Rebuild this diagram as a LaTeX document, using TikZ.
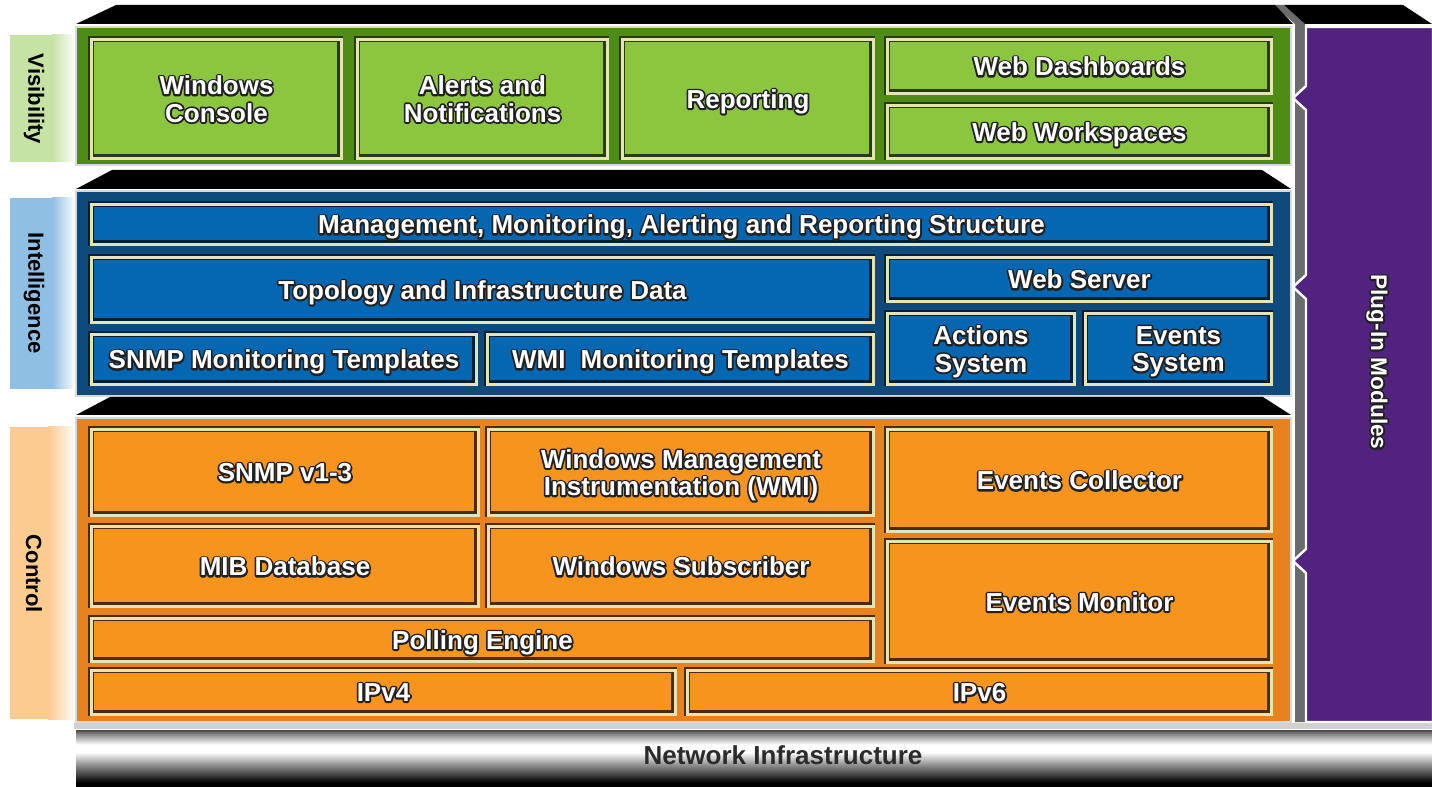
\documentclass[tikz,border=0pt]{standalone}
\usepackage{fontspec}
\newfontfamily\lsans{Liberation Sans}
\definecolor{gOut}{HTML}{4F8C16}
\definecolor{gIn}{HTML}{8CC63F}
\definecolor{bOut}{HTML}{0E4A7C}
\definecolor{bIn}{HTML}{0566B1}
\definecolor{oOut}{HTML}{E8821C}
\definecolor{oIn}{HTML}{F7941E}
\definecolor{cream}{HTML}{E6E3B4}
\definecolor{visS}{HTML}{C6E2A4}
\definecolor{intS}{HTML}{8FBFE3}
\definecolor{ctlS}{HTML}{FBCB90}
\definecolor{plum}{HTML}{51237F}
\definecolor{barGrey}{HTML}{6B6B6B}
\definecolor{netText}{HTML}{2B2B2B}
% outlined text: a stroked copy underneath, the plain white text on top
\newcommand\ot[1]{\rlap{\special{pdf:literal direct 2 Tr 2.6 w 1 j 0.13 G}#1\special{pdf:literal direct 0 Tr}}#1}
\pgfdeclareverticalshading{metal}{100bp}{color(0bp)=(black); color(25bp)=(black); color(28bp)=(black); color(35bp)=(black!75); color(45bp)=(black!40); color(55bp)=(white); color(62bp)=(white); color(72bp)=(black!50); color(75bp)=(black!72); color(100bp)=(black!72)}
\tikzset{
  boxtext/.style={text=white, font=\lsans\bfseries\fontsize{19.5}{20.5}\selectfont, align=center, inner sep=0pt, text depth=0pt},
  striptext/.style={text=black, font=\lsans\bfseries\fontsize{16.5}{18}\selectfont, rotate=-90, inner sep=0pt},
  layerbg/.style={draw=black!15, line width=2.2pt},
  topband/.style={fill=black},
}
% #1 name, #2 x0, #3 y0, #4 x1, #5 y1, #6 colour, #7 text
\newcommand\blk[7]{%
  \fill[#6!30!black] (#2-2,#3-2) rectangle (#4,#5);
  \fill[cream] (#2,#3) rectangle (#4,#5);
  \fill[#6!30!black] (#2+3,#3+3) rectangle (#4-3,#5-3);
  \fill[#6] (#2+4,#3+4) rectangle (#4-6,#5-6);
  \node[boxtext] (#1) at ({(#2+#4)/2},{(#3+#5)/2}) {#7};
}
\begin{document}
\begin{tikzpicture}[x=0.75pt,y=-0.75pt]
\useasboundingbox (0,0) rectangle (1432,787);
\fill[white] (0,0) rectangle (1432,787);

% ---------- plug-in modules column ----------
\fill[barGrey] (1273,5) -- (1284,5) -- (1305,24) -- (1305,722) -- (1295,722) -- (1295,24) -- cycle;
\fill[black] (1284,5) -- (1403,5) -- (1432,24) -- (1305,24) -- cycle;
\draw[white, line width=1.8pt, fill=plum] (1306,27) -- (1306,86) -- (1293,98) -- (1306,110)
  -- (1306,275) -- (1293,287) -- (1306,299) -- (1306,549) -- (1293,561) -- (1306,573)
  -- (1306,722) -- (1433,722) -- (1433,27) -- cycle;
\node[striptext, text=white, font=\lsans\bfseries\fontsize{17}{18}\selectfont] (plug) at (1377,362) {\ot{Plug-In Modules}};

% ---------- network infrastructure ----------
\fill[black!18] (74,723) rectangle (1432,729);
\shade[shading=metal] (76,730) rectangle (1432,786);
\node[text=netText, font=\lsans\bfseries\fontsize{19.5}{21}\selectfont, inner sep=0pt] (net) at (783,755) {Network Infrastructure};

% ---------- visibility layer ----------
\fill[topband] (76,24) -- (116,5) -- (1275,5) -- (1293,24) -- cycle;
\draw[layerbg, fill=gOut] (76,27) rectangle (1291,165);
\fill[visS] (10,35) rectangle (52,162);
\shade[left color=visS, right color=visS!12] (52,35) rectangle (73,162);
\node[striptext] (lvis) at (34,99) {Visibility};
\blk{winc}{90}{38}{343}{160}{gIn}{\ot{Windows}\\\ot{Console}}
\blk{alrt}{356}{38}{609}{160}{gIn}{\ot{Alerts and}\\\ot{Notifications}}
\blk{rept}{621}{38}{875}{160}{gIn}{\ot{Reporting}}
\blk{wdash}{886}{38}{1273}{95}{gIn}{\ot{Web Dashboards}}
\blk{wwork}{886}{104}{1273}{160}{gIn}{\ot{Web Workspaces}}

% ---------- intelligence layer ----------
\fill[topband] (76,189) -- (112,170) -- (1262,170) -- (1291,189) -- cycle;
\draw[layerbg, fill=bOut] (76,191) rectangle (1291,396);
\fill[intS] (10,198) rectangle (52,389);
\shade[left color=intS, right color=intS!12] (52,198) rectangle (73,389);
\node[striptext] (lint) at (34,293) {Intelligence};
\blk{mgmt}{90}{203}{1273}{246}{bIn}{\ot{Management, Monitoring, Alerting and Reporting Structure}}
\blk{topo}{90}{256}{875}{324}{bIn}{\ot{Topology and Infrastructure Data}}
\blk{wsrv}{886}{256}{1273}{303}{bIn}{\ot{Web Server}}
\blk{snmpt}{90}{333}{478}{386}{bIn}{\ot{SNMP Monitoring Templates}}
\blk{wmit}{486}{333}{875}{386}{bIn}{\ot{WMI\hspace{0.3em} Monitoring Templates}}
\blk{acts}{886}{312}{1076}{386}{bIn}{\ot{Actions}\\\ot{System}}
\blk{evts}{1084}{312}{1273}{386}{bIn}{\ot{Events}\\\ot{System}}

% ---------- control layer ----------
\fill[topband] (76,415) -- (110,397) -- (1263,397) -- (1291,415) -- cycle;
\draw[layerbg, fill=oOut] (76,418) rectangle (1291,722);
\fill[ctlS] (10,427) rectangle (48,719);
\shade[left color=ctlS, right color=ctlS!12] (48,427) rectangle (73,719);
\node[striptext] (lctl) at (34,574) {Control};
\blk{snmp}{90}{428}{480}{517}{oIn}{\ot{SNMP v1-3}}
\blk{wmi}{487}{428}{875}{517}{oIn}{\ot{Windows Management}\\\ot{Instrumentation (WMI)}}
\blk{evc}{886}{428}{1273}{533}{oIn}{\ot{Events Collector}}
\blk{mib}{90}{525}{480}{608}{oIn}{\ot{MIB Database}}
\blk{wsub}{487}{525}{875}{608}{oIn}{\ot{Windows Subscriber}}
\blk{evm}{886}{540}{1273}{664}{oIn}{\ot{Events Monitor}}
\blk{poll}{90}{617}{875}{663}{oIn}{\ot{Polling Engine}}
\blk{ipvf}{90}{669}{677}{716}{oIn}{\ot{IPv4}}
\blk{ipvs}{686}{669}{1273}{716}{oIn}{\ot{IPv6}}
\end{tikzpicture}
\end{document}
